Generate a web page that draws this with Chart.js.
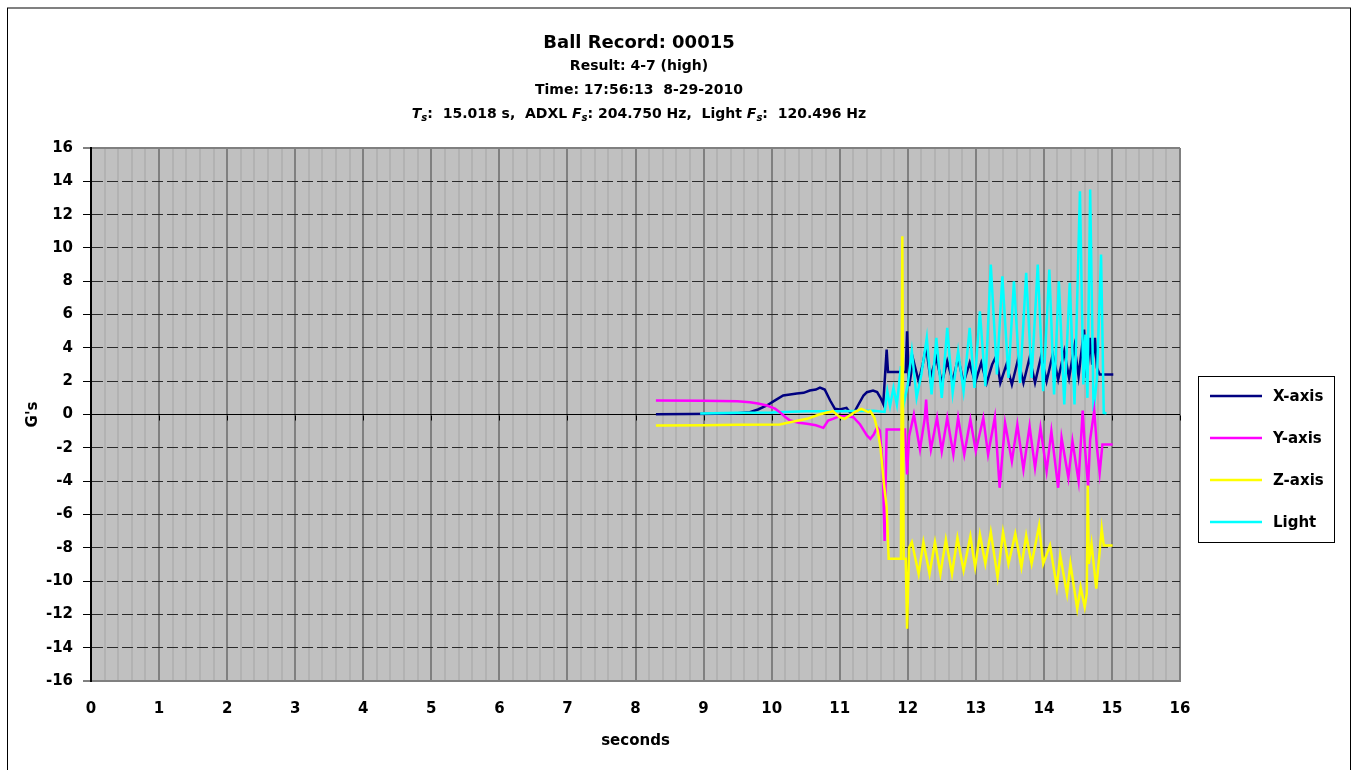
<!DOCTYPE html>
<html>
<head>
<meta charset="utf-8">
<script src="https://cdn.jsdelivr.net/npm/chart.js@4/dist/chart.umd.min.js"></script>
<style>
html,body{margin:0;padding:0;background:#fff;}
canvas{display:block;}
</style>
</head>
<body>
<canvas id="c" width="1353" height="770"></canvas>
<script>
// ---------------- DATA ----------------
const seriesNames = ['X-axis', 'Y-axis', 'Z-axis', 'Light'];
const xTickValues = [0,1,2,3,4,5,6,7,8,9,10,11,12,13,14,15,16];
const yTickValues = [-16,-14,-12,-10,-8,-6,-4,-2,0,2,4,6,8,10,12,14,16];

const xAxisT = [8.30,8.80,9.20,9.50,9.68,9.80,9.93,10.05,10.17,10.27,10.37,10.47,10.56,10.65,10.71,10.78,10.86,10.93,11.00,11.10,11.15,11.20,11.35,11.40,11.49,11.55,11.60,11.64,11.69,11.71,11.97,11.99,
  12.02,12.08,12.16,12.22,12.27,12.33,12.42,12.50,12.58,12.66,12.74,12.82,12.91,12.99,13.08,13.16,13.24,13.30,13.36,13.45,13.53,13.62,13.70,13.79,13.87,13.96,14.04,14.13,14.21,14.30,14.37,14.45,14.51,14.57,14.59,14.63,14.68,14.71,14.75,14.78,14.82,15.02];
const xAxisV = [0.02,0.03,0.05,0.08,0.14,0.30,0.54,0.85,1.14,1.20,1.26,1.30,1.44,1.50,1.62,1.50,0.84,0.34,0.30,0.40,0.14,0.04,1.14,1.34,1.44,1.35,1.00,0.64,3.90,2.55,2.55,5.00,
  1.70,3.30,2.00,3.00,4.10,2.20,3.40,1.90,3.20,2.00,3.40,1.90,3.10,1.90,3.10,1.90,3.00,3.50,1.90,3.00,1.80,3.30,1.90,3.40,1.90,3.50,2.00,3.60,2.10,3.80,2.20,4.10,2.30,4.40,5.10,2.20,4.60,3.00,4.60,2.80,2.40,2.40];

const yAxisT = [8.30,9.00,9.50,9.68,9.80,9.93,10.05,10.12,10.20,10.27,10.40,10.52,10.65,10.76,10.83,10.90,11.00,11.10,11.20,11.30,11.40,11.45,11.50,11.55,11.59,11.63,11.66,11.69,11.96,11.99,
  12.02,12.09,12.18,12.25,12.27,12.29,12.34,12.43,12.50,12.58,12.67,12.74,12.83,12.92,13.00,13.11,13.18,13.28,13.35,13.43,13.53,13.61,13.70,13.79,13.87,13.95,14.04,14.11,14.21,14.26,14.36,14.42,14.51,14.57,14.60,14.65,14.68,14.74,14.78,14.82,14.86,15.01];
const yAxisV = [0.84,0.82,0.80,0.74,0.66,0.54,0.35,0.14,-0.15,-0.36,-0.50,-0.56,-0.65,-0.80,-0.36,-0.26,-0.10,-0.10,-0.16,-0.60,-1.26,-1.46,-1.20,-0.76,-0.96,-2.96,-7.60,-0.90,-0.90,-3.60,
  -1.30,0.00,-2.10,-0.20,0.90,-0.40,-2.10,-0.20,-2.20,-0.20,-2.40,-0.20,-2.40,-0.30,-2.20,-0.20,-2.40,-0.16,-4.40,-0.50,-2.80,-0.60,-3.30,-0.70,-3.20,-0.80,-3.40,-1.00,-4.40,-1.40,-3.80,-1.60,-4.00,0.24,-1.80,-4.30,-1.50,0.24,-2.00,-3.50,-1.80,-1.80];

const zAxisT = [8.30,9.00,9.50,10.12,10.27,10.52,10.70,10.80,10.90,11.00,11.07,11.15,11.22,11.32,11.42,11.45,11.51,11.56,11.60,11.65,11.69,11.72,11.90,11.92,11.94,11.97,11.99,
  12.02,12.06,12.16,12.23,12.32,12.40,12.48,12.56,12.65,12.73,12.82,12.92,12.99,13.06,13.14,13.22,13.32,13.40,13.48,13.58,13.67,13.74,13.82,13.93,13.99,14.09,14.19,14.24,14.34,14.39,14.49,14.54,14.60,14.63,14.645,14.66,14.70,14.77,14.85,14.88,15.01];
const zAxisV = [-0.66,-0.65,-0.62,-0.60,-0.46,-0.26,0.00,0.10,0.20,-0.16,-0.26,-0.05,0.14,0.34,0.14,0.20,-0.20,-1.00,-2.00,-4.16,-5.56,-8.66,-8.66,10.70,-8.66,-8.66,-12.86,
  -8.00,-7.66,-9.56,-7.66,-9.56,-7.66,-9.56,-7.50,-9.56,-7.40,-9.36,-7.30,-9.16,-7.20,-8.96,-7.06,-9.76,-7.06,-8.96,-7.16,-9.16,-7.26,-8.96,-6.66,-8.96,-7.86,-10.36,-8.46,-10.76,-8.96,-11.66,-10.36,-11.56,-10.76,-4.26,-8.96,-7.76,-10.46,-6.86,-7.86,-7.86];

const lightT = [8.95,9.50,10.00,10.50,11.00,11.50,11.66,11.70,11.74,11.79,11.84,11.90,11.94,12.00,
  12.06,12.13,12.20,12.28,12.35,12.42,12.50,12.58,12.66,12.74,12.82,12.91,12.98,13.06,13.14,13.22,13.31,13.39,13.48,13.56,13.65,13.74,13.82,13.91,13.99,14.08,14.15,14.22,14.30,14.38,14.45,14.53,14.58,14.61,14.64,14.68,14.73,14.78,14.84,14.88,14.92];
const lightV = [0.06,0.10,0.12,0.20,0.20,0.22,0.15,1.40,0.50,1.60,0.60,2.90,0.60,1.80,
  3.80,1.00,2.40,4.60,1.20,4.60,1.00,5.20,1.30,3.80,1.40,5.20,1.60,6.20,1.70,9.00,2.40,8.30,2.20,8.00,1.90,8.50,2.20,9.00,1.40,8.70,1.20,8.00,0.60,7.90,0.60,13.40,1.80,4.80,1.00,13.50,0.20,2.20,9.60,0.10,0.08];

// ---------------- CHART ----------------
const FAM = "'DejaVu Sans', 'Liberation Sans', sans-serif";
const toPts = (t, v) => t.map((x, i) => ({x: x, y: v[i]}));
const isInt = v => Math.abs(v - Math.round(v)) < 1e-9;

const styles = [
  {color: '#000080', order: 4},
  {color: '#FF00FF', order: 2},
  {color: '#FFFF00', order: 1},
  {color: '#00FFFF', order: 3}
];
const seriesData = [[xAxisT, xAxisV], [yAxisT, yAxisV], [zAxisT, zAxisV], [lightT, lightV]];

const datasets = seriesNames.map((name, i) => ({
  label: name,
  data: toPts(seriesData[i][0], seriesData[i][1]),
  borderColor: styles[i].color,
  backgroundColor: styles[i].color,
  borderWidth: 2.5,
  pointRadius: 0,
  tension: 0,
  fill: false,
  order: styles[i].order
}));

const bgPlugin = {
  id: 'bg',
  beforeDraw(chart) {
    const {ctx, chartArea: a} = chart;
    ctx.save();
    ctx.fillStyle = '#ffffff';
    ctx.fillRect(0, 0, chart.width, chart.height);
    ctx.fillStyle = '#C0C0C0';
    ctx.fillRect(a.left, a.top, a.right - a.left, a.bottom - a.top);
    ctx.restore();
  }
};

const zeroAxisPlugin = {
  id: 'zeroAxis',
  beforeDatasetsDraw(chart) {
    const {ctx, scales: {x, y}} = chart;
    const y0 = Math.round(y.getPixelForValue(0)) + 0.5;
    ctx.save();
    ctx.strokeStyle = '#000';
    ctx.lineWidth = 1;
    ctx.beginPath();
    xTickValues.forEach(v => {
      const px = Math.round(x.getPixelForValue(v)) + 0.5;
      ctx.moveTo(px, y0);
      ctx.lineTo(px, y0 + 5);
    });
    ctx.stroke();
    ctx.restore();
  }
};

const titlePlugin = {
  id: 'titles',
  afterDraw(chart) {
    const ctx = chart.ctx;
    const cx = 639;
    ctx.save();
    ctx.fillStyle = '#000';
    ctx.textBaseline = 'alphabetic';
    ctx.textAlign = 'center';
    ctx.font = 'bold 18px ' + FAM;
    ctx.fillText('Ball Record: 00015', cx, 48);
    ctx.font = 'bold 14px ' + FAM;
    ctx.fillText('Result: 4-7 (high)', cx, 70);
    ctx.fillText('Time: 17:56:13  8-29-2010', cx, 94);
    const runs = [
      {t: 'T', it: true}, {t: 's', it: true, sub: true}, {t: ':  15.018 s,  ADXL '},
      {t: 'F', it: true}, {t: 's', it: true, sub: true}, {t: ': 204.750 Hz,  Light '},
      {t: 'F', it: true}, {t: 's', it: true, sub: true}, {t: ':  120.496 Hz'}
    ];
    const fontOf = r => (r.it ? 'italic ' : '') + 'bold ' + (r.sub ? '10px ' : '14px ') + FAM;
    ctx.textAlign = 'left';
    let total = 0;
    runs.forEach(r => { ctx.font = fontOf(r); r.w = ctx.measureText(r.t).width; total += r.w; });
    let xx = cx - total / 2;
    runs.forEach(r => {
      ctx.font = fontOf(r);
      ctx.fillText(r.t, xx, 118 + (r.sub ? 3 : 0));
      xx += r.w;
    });
    ctx.restore();
  }
};

const legendPlugin = {
  id: 'boxLegend',
  afterDraw(chart) {
    const ctx = chart.ctx;
    const bx = 1198, by = 376, bw = 136, bh = 166;
    ctx.save();
    ctx.strokeStyle = '#000';
    ctx.lineWidth = 1;
    ctx.strokeRect(bx + 0.5, by + 0.5, bw, bh);
    const rowY = [396, 438, 480, 522];
    ctx.font = 'bold 15px ' + FAM;
    ctx.textBaseline = 'middle';
    ctx.textAlign = 'left';
    chart.data.datasets.forEach((ds, i) => {
      ctx.strokeStyle = ds.borderColor;
      ctx.lineWidth = 2.5;
      ctx.beginPath();
      ctx.moveTo(1210, rowY[i]);
      ctx.lineTo(1262, rowY[i]);
      ctx.stroke();
      ctx.fillStyle = '#000';
      ctx.fillText(ds.label, 1273, rowY[i] + 1);
    });
    ctx.restore();
  }
};

const framePlugin = {
  id: 'frame',
  afterDraw(chart) {
    const ctx = chart.ctx;
    ctx.save();
    ctx.strokeStyle = '#808080';
    ctx.lineWidth = 2;
    ctx.beginPath();
    ctx.moveTo(7, 8); ctx.lineTo(1351, 8);
    ctx.stroke();
    ctx.strokeStyle = '#000';
    ctx.lineWidth = 1;
    ctx.beginPath();
    ctx.moveTo(7.5, 8); ctx.lineTo(7.5, 770);
    ctx.moveTo(1350.5, 8); ctx.lineTo(1350.5, 770);
    ctx.stroke();
    ctx.restore();
  }
};

new Chart(document.getElementById('c'), {
  type: 'line',
  data: {datasets: datasets},
  plugins: [bgPlugin, zeroAxisPlugin, titlePlugin, legendPlugin, framePlugin],
  options: {
    responsive: false,
    animation: false,
    devicePixelRatio: 1,
    parsing: true,
    layout: {padding: {left: 0, right: 173, top: 148, bottom: 0}},
    plugins: {
      legend: {display: false},
      title: {display: false},
      tooltip: {enabled: false}
    },
    scales: {
      x: {
        type: 'linear',
        min: 0,
        max: 16,
        afterBuildTicks: s => {
          const t = [];
          for (let i = 0; i <= 80; i++) t.push({value: i / 5});
          s.ticks = t;
        },
        ticks: {
          autoSkip: false,
          maxRotation: 0,
          padding: 19,
          color: '#000',
          font: {family: FAM, size: 15, weight: 'bold'},
          callback: v => (isInt(v) ? String(Math.round(v)) : '')
        },
        grid: {
          drawTicks: false,
          color: c => {
            const v = c.tick ? c.tick.value : 1;
            if (isInt(v) && Math.round(v) === 0) return '#000';
            return isInt(v) ? '#808080' : '#B2B2B2';
          },
          lineWidth: 2
        },
        border: {color: '#808080', width: 2},
        title: {
          display: true,
          text: 'seconds',
          color: '#000',
          font: {family: FAM, size: 15, weight: 'bold'},
          padding: {top: 0, bottom: 20}
        },
        afterFit: s => { s.height = 89; }
      },
      y: {
        type: 'linear',
        min: -16,
        max: 16,
        afterBuildTicks: s => { s.ticks = yTickValues.map(v => ({value: v})); },
        ticks: {
          autoSkip: false,
          padding: 10,
          color: '#000',
          font: {family: FAM, size: 15, weight: 'bold'},
          callback: v => String(v)
        },
        grid: {
          drawTicks: true,
          tickLength: 8,
          tickColor: '#000',
          tickWidth: 1,
          color: c => {
            const v = c.tick ? c.tick.value : null;
            if (v === 0) return '#000';
            if (v === 16 || v === -16) return '#808080';
            return '#2a2a2a';
          },
          lineWidth: c => {
            const v = c.tick ? c.tick.value : null;
            return (v === 16 || v === -16) ? 2 : 1;
          }
        },
        border: {
          color: '#000',
          width: 2,
          dash: c => {
            const v = c.tick ? c.tick.value : null;
            return (v === null || v === 0 || v === 16 || v === -16) ? [] : [11, 4];
          }
        },
        title: {
          display: true,
          text: "G's",
          color: '#000',
          font: {family: FAM, size: 15, weight: 'bold'},
          padding: {top: 24, bottom: 0}
        },
        afterFit: s => { s.width = 91; }
      }
    }
  }
});
</script>
</body>
</html>
